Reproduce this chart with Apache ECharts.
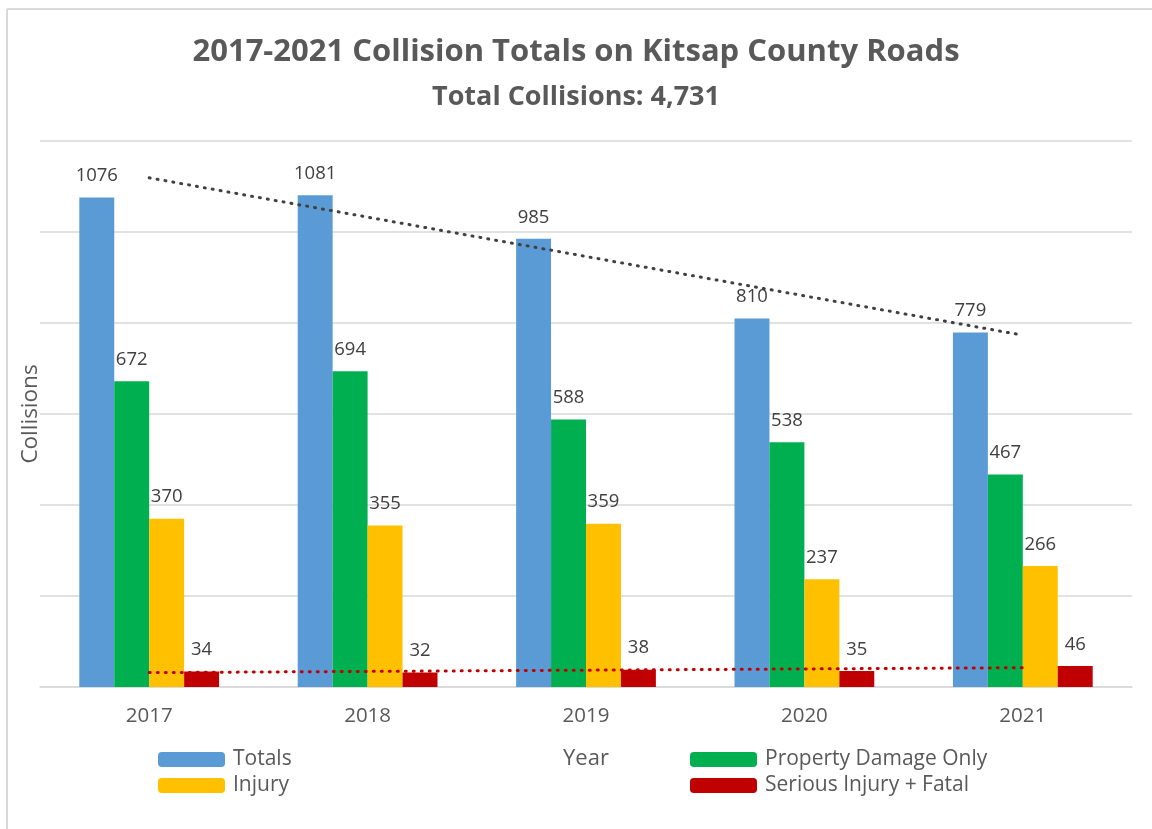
<!DOCTYPE html>
<html>
<head>
<meta charset="utf-8">
<script src="https://cdn.jsdelivr.net/npm/echarts@6/dist/echarts.min.js"></script>
<style>
  html, body { margin: 0; padding: 0; background: #fff; }
  #chart { width: 1152px; height: 829px; }
</style>
</head>
<body>
<div id="chart"></div>
<script>
const years = ['2017', '2018', '2019', '2020', '2021']
const totals = [1076, 1081, 985, 810, 779]
const propertyDamage = [672, 694, 588, 538, 467]
const injury = [370, 355, 359, 237, 266]
const seriousFatal = [34, 32, 38, 35, 46]

// linear trendline like excel does
function trend(vals) {
    const n = vals.length
    const mx = (n + 1) / 2
    const my = vals.reduce((a, b) => a + b, 0) / n
    let num = 0, den = 0
    vals.forEach((v, i) => { num += (i + 1 - mx) * (v - my); den += (i + 1 - mx) ** 2 })
    const k = num / den
    return vals.map((v, i) => +(my + k * (i + 1 - mx)).toFixed(2))
}

const font = '"Open Sans", sans-serif'
const txt = '#595959'

const chart = echarts.init(document.getElementById('chart'))

const barLabel = {show: true, position: 'top', distance: 12, color: '#404040', fontSize: 18.5, fontFamily: font}

chart.setOption({
    animation: false,
    textStyle: {fontFamily: font},
    title: [
        {text: '2017-2021 Collision Totals on Kitsap County Roads', left: 'center', top: 32,
         textStyle: {fontSize: 31, fontWeight: 'bold', color: txt, fontFamily: font}},
        {text: 'Total Collisions: 4,731', left: 'center', top: 79,
         textStyle: {fontSize: 27, fontWeight: 'bold', color: txt, fontFamily: font}}
    ],
    graphic: [
        {type: 'line', shape: {x1: 7, y1: 9, x2: 1152, y2: 9}, style: {stroke: '#d9d9d9', lineWidth: 2}},
        {type: 'line', shape: {x1: 7, y1: 9, x2: 7, y2: 829}, style: {stroke: '#d9d9d9', lineWidth: 2}}
    ],
    legend: [
        {data: ['Totals', 'Injury'], orient: 'vertical', left: 153, top: 744, itemWidth: 67, itemHeight: 15,
         itemGap: 5, textStyle: {fontSize: 21, color: txt, fontFamily: font, padding: [0, 0, 0, 3]}},
        {data: ['Property Damage Only', 'Serious Injury + Fatal'], orient: 'vertical', left: 685, top: 744,
         itemWidth: 67, itemHeight: 15, itemGap: 5, textStyle: {fontSize: 21, color: txt, fontFamily: font, padding: [0, 0, 0, 3]}}
    ],
    grid: {left: 40, right: 20, top: 141, bottom: 142},
    xAxis: {
        type: 'category', data: years,
        name: 'Year', nameLocation: 'middle', nameGap: 61,
        nameTextStyle: {fontSize: 22, color: txt, fontFamily: font},
        axisLine: {lineStyle: {color: '#d9d9d9', width: 1.5}},
        axisTick: {show: false},
        axisLabel: {fontSize: 20.5, color: txt, margin: 19, fontFamily: font}
    },
    yAxis: {
        type: 'value', min: 0, max: 1200, interval: 200,
        name: 'Collisions', nameLocation: 'middle', nameGap: -2,
        nameTextStyle: {fontSize: 22.5, color: txt, fontFamily: font},
        axisLabel: {show: false},
        axisLine: {show: false}, axisTick: {show: false},
        splitLine: {lineStyle: {color: '#d9d9d9', width: 1.5}}
    },
    series: [
        {name: 'Totals', type: 'bar', data: totals, barGap: '0%', barCategoryGap: '36%',
         itemStyle: {color: '#5B9BD5'}, label: barLabel},
        {name: 'Property Damage Only', type: 'bar', data: propertyDamage,
         itemStyle: {color: '#00B050'}, label: barLabel},
        {name: 'Injury', type: 'bar', data: injury,
         itemStyle: {color: '#FFC000'}, label: barLabel},
        {name: 'Serious Injury + Fatal', type: 'bar', data: seriousFatal,
         itemStyle: {color: '#C00000'}, label: barLabel},
        {name: 'trend totals', type: 'line', data: trend(totals), symbol: 'none', z: 5,
         lineStyle: {color: '#404040', width: 3, type: [1, 7], cap: 'round'}},
        {name: 'trend serious', type: 'line', data: trend(seriousFatal), symbol: 'none', z: 5,
         lineStyle: {color: '#C00000', width: 3, type: [1, 7], cap: 'round'}}
    ]
})
</script>
</body>
</html>
